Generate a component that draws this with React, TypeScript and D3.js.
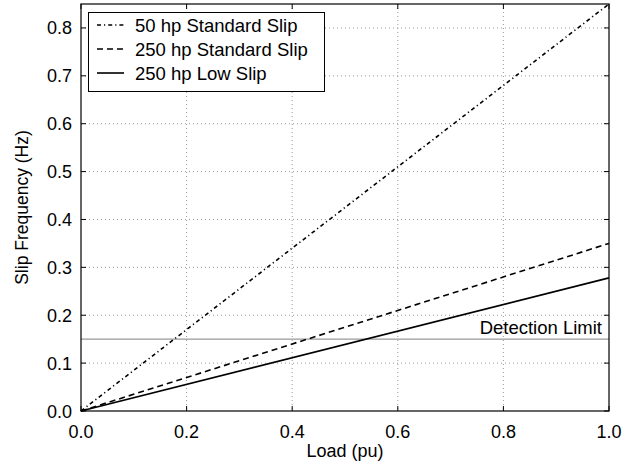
import React from "react";
import * as d3 from "d3";

const loads = [0, 1.0];
const hp50Standard = [0, 0.85];
const hp250Standard = [0, 0.35];
const hp250Low = [0, 0.278];
const detectionLimit = 0.15;
const xTicks = [0, 0.2, 0.4, 0.6, 0.8, 1.0];
const yTicks = [0, 0.1, 0.2, 0.3, 0.4, 0.5, 0.6, 0.7, 0.8];
const seriesNames = ["50 hp Standard Slip", "250 hp Standard Slip", "250 hp Low Slip"];

const W = 632, H = 464;
const L = 81, R = 609, T = 4, B = 411;

export default function App() {
  const x = d3.scaleLinear().domain([0, 1]).range([L, R]);
  const y = d3.scaleLinear().domain([0, 0.85]).range([B, T]);
  const line = d3.line<number>().x((_, i) => x(loads[i])).y((d) => y(d));
  const font = "'Liberation Sans', Arial, sans-serif";
  const series = [
    { name: seriesNames[0], data: hp50Standard, dash: "4,3,1.2,3" },
    { name: seriesNames[1], data: hp250Standard, dash: "6,4" },
    { name: seriesNames[2], data: hp250Low, dash: undefined },
  ];
  return (
    <svg width={W} height={H} style={{ position: "absolute", left: 0, top: 0, background: "#fff" }} fontFamily={font}>
      <rect x={0} y={0} width={W} height={H} fill="#fff" />
      {/* grid */}
      {xTicks.slice(1, -1).map((t) => (
        <line key={"gx" + t} x1={x(t)} x2={x(t)} y1={T} y2={B} stroke="#999" strokeWidth={1} strokeDasharray="1,3" />
      ))}
      {yTicks.slice(1).map((t) => (
        <line key={"gy" + t} x1={L} x2={R} y1={y(t)} y2={y(t)} stroke="#999" strokeWidth={1} strokeDasharray="1,3" />
      ))}
      {/* detection limit */}
      <line x1={L} x2={R} y1={y(detectionLimit)} y2={y(detectionLimit)} stroke="#999" strokeWidth={1.2} />
      <text x={602} y={y(detectionLimit) - 5} textAnchor="end" fontSize={18.5} fill="#000">Detection Limit</text>
      {/* series */}
      {series.map((s) => (
        <path key={s.name} d={line(s.data) || ""} fill="none" stroke="#000" strokeWidth={1.6} strokeDasharray={s.dash} />
      ))}
      {/* ticks */}
      {xTicks.map((t) => (
        <g key={"tx" + t}>
          <line x1={x(t)} x2={x(t)} y1={B} y2={B - 5} stroke="#000" />
          <line x1={x(t)} x2={x(t)} y1={T} y2={T + 5} stroke="#000" />
          <text x={x(t)} y={438} textAnchor="middle" fontSize={18}>{t.toFixed(1)}</text>
        </g>
      ))}
      {yTicks.map((t) => (
        <g key={"ty" + t}>
          <line x1={L} x2={L + 5} y1={y(t)} y2={y(t)} stroke="#000" />
          <line x1={R} x2={R - 5} y1={y(t)} y2={y(t)} stroke="#000" />
          <text x={72} y={y(t) + 6.5} textAnchor="end" fontSize={18}>{t.toFixed(1)}</text>
        </g>
      ))}
      <rect x={L} y={T} width={R - L} height={B - T} fill="none" stroke="#000" strokeWidth={1.2} />
      {/* legend */}
      <rect x={88.5} y={12.5} width={236} height={79} fill="#fff" stroke="#000" strokeWidth={1} />
      {series.map((s, i) => (
        <g key={"lg" + i}>
          <line x1={97} x2={124} y1={25 + i * 24} y2={25 + i * 24} stroke="#000" strokeWidth={1.6} strokeDasharray={s.dash} />
          <text x={135} y={25 + i * 24 + 6.5} fontSize={18.5}>{s.name}</text>
        </g>
      ))}
      <text x={345} y={457} textAnchor="middle" fontSize={18}>Load (pu)</text>
      <text transform={`translate(28,${(T + B) / 2}) rotate(-90)`} textAnchor="middle" fontSize={17.5}>Slip Frequency (Hz)</text>
    </svg>
  );
}
